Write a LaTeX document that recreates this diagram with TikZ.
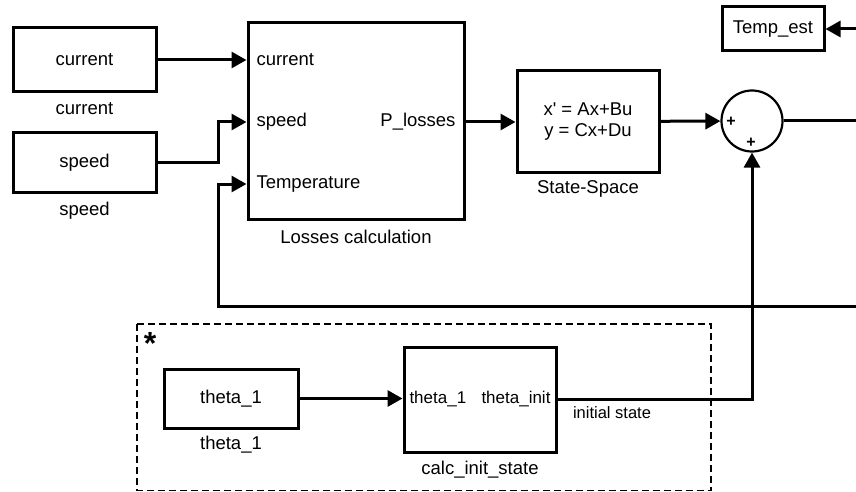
\documentclass[tikz,border=0pt]{standalone}
\usepackage{fontspec}
\setmainfont{Liberation Sans}
\usetikzlibrary{arrows.meta}

\begin{document}
\begin{tikzpicture}[
      x = 1pt, y = -1pt, % pixel-like units
      > = {Triangle[length=15pt, width=16pt]}, % arrow head style
      line width = 3pt, % line style
      font = \fontsize{18.5}{21}\selectfont,
    ]

    \tikzstyle{block}=[
      draw = black,
      line width = 3pt,
      fill = white,
      inner sep = 0pt
    ]
    \tikzstyle{port}=[anchor = west, inner sep = 0pt]
    \tikzstyle{plus}=[inner sep = 0pt, font = \fontsize{16}{16}\selectfont\bfseries]

    \useasboundingbox (0,0) rectangle (856,492);

    % signal sources
    \node[block, minimum width = 143pt, minimum height = 64pt] (cur) [at={(84.5, 60)}] {current};
    \node[block, minimum width = 143pt, minimum height = 60pt] (spd) [at={(84.5, 162.5)}] {speed};
    \node (capcur) [at={(84.5, 109)}] {current};
    \node (capspd) [at={(84.5, 211)}] {speed};

    % losses block
    \node[block, minimum width = 216pt, minimum height = 196pt] (loss) [at={(356, 121)}] {};
    \node[port] (pcur) [at={(255, 60)}] {current};
    \node[port] (pspd) [at={(255, 122)}] {speed};
    \node[port] (ptemp) [at={(255, 184)}] {Temperature};
    \node[port, anchor = east] (ploss) [at={(457, 122)}] {P\_losses};
    \node (caploss) [at={(356, 237)}] {Losses calculation};

    % state space and sum
    \node[block, minimum width = 142pt, minimum height = 101pt, align = center] (ss) [at={(588, 121.5)}] {x\textquotesingle{} = Ax+Bu\\y = Cx+Du};
    \node (capss) [at={(588, 189)}] {State-Space};
    \node[block, circle, line width = 2.2pt, minimum size = 61pt] (sum) [at={(752, 121)}] {};
    \node[plus] (plusl) [at={(731, 122)}] {+};
    \node[plus] (plusb) [at={(751, 143)}] {+};
    \node[block, minimum width = 102pt, minimum height = 44pt] (test) [at={(773, 29)}] {Temp\_est};

    % initial state part
    \node[block, minimum width = 134pt, minimum height = 59pt] (th) [at={(231, 398.5)}] {theta\_1};
    \node (capth) [at={(231, 445)}] {theta\_1};
    \node[block, minimum width = 152pt, minimum height = 105pt] (calc) [at={(480, 399.5)}] {};
    \node[port, font = \fontsize{17}{20}\selectfont] (pth) [at={(408, 399)}] {theta\_1};
    \node[port, anchor = east, font = \fontsize{17}{20}\selectfont] (pinit) [at={(552, 399)}] {theta\_init};
    \node (capcalc) [at={(480, 470)}] {calc\_init\_state};
    \node (lblinit) [at={(612, 413)}] {\fontsize{16.5}{19}\selectfont initial state};
    \node (star) [at={(150, 343)}] {\fontsize{32}{32}\selectfont\bfseries *};
    \draw[dashed, line width = 1.8pt, dash pattern = on 7pt off 4pt] (137,324) rectangle (711,490.5);

    % free ends
    \coordinate (fbl) at (218, 306);
    \coordinate (fbr) at (856, 306);
    \coordinate (outr) at (856, 121);
    \coordinate (testr) at (856, 29);

    \draw[->] (cur) -- (loss.west |- pcur);
    \draw[->] (spd) -- (218, 162.5) |- (loss.west |- pspd);
    \draw[->] (fbr) -- (fbl) |- (loss.west |- ptemp);
    \draw[->] (loss.east |- ploss) -- (ss.west |- ploss);
    \draw[->] (ss) -- (sum);
    \draw (sum) -- (outr);
    \draw[->] (testr) -- (test);
    \draw[->] (th) -- (calc.west |- th);
    \draw[->] (calc.east |- pinit) -| (sum);

  \end{tikzpicture}
\end{document}
